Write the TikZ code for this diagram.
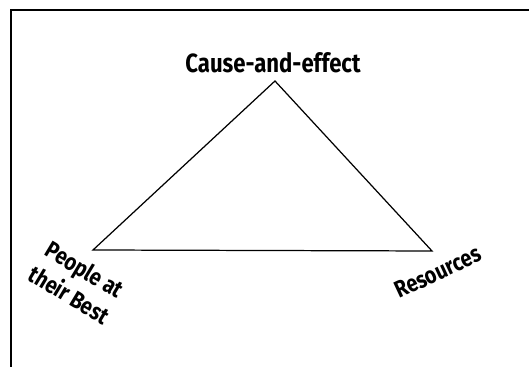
\documentclass[tikz,border=0pt]{standalone}
\usepackage{fontspec}
\setmainfont{Fira Sans}
\newfontfamily\labelfont[FakeStretch=0.84]{Fira Sans}
\usetikzlibrary{positioning}

\tikzset{
    corner/.style={font=\labelfont\bfseries\fontsize{15}{17}\selectfont, align=center, inner sep=1pt},
    tilted/.style={corner, font=\labelfont\bfseries\fontsize{13.5}{17}\selectfont},
    edge/.style={line width=0.7pt}
}

\begin{document}
\begin{tikzpicture}[x=0.02cm, y=-0.02cm]
    \useasboundingbox (0,0) rectangle (529,367);
    % frame (top and left only)
    \draw[line width=0.8pt] (11,367) -- (11,10) -- (529,10);
    % triangle corners
    \coordinate (cause) at (275,81);
    \coordinate (people) at (93,250);
    \coordinate (resources) at (432,251);
    \draw[edge] (cause) -- (people) -- (resources) -- cycle;
    % labels
    \node[corner] (causelabel) at (273,63) {Cause-and-effect};
    \node[tilted, rotate=-31] (peoplelabel) at (77,282) {People at\\their Best};
    \node[tilted, rotate=25] (resourceslabel) at (438,272) {Resources};
\end{tikzpicture}
\end{document}
